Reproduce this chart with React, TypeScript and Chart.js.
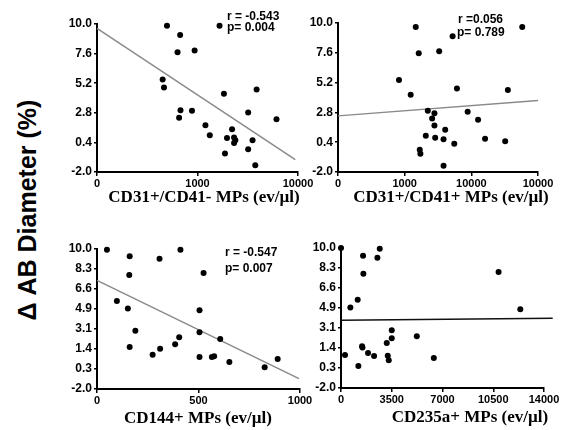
import React, { useEffect, useRef } from "react";
import { Chart, registerables } from "chart.js";
Chart.register(...registerables);

// ---------- Data ----------
// Panel 1: CD31+/CD41- MPs (log x)
const p1X = [497, 1657, 672, 633, 936, 450, 464, 1832, 3873, 677, 881, 656, 3192, 6109, 1199, 1325, 2208, 1965, 2312, 2380, 2312, 3530, 1877, 3192, 3757];
const p1Y = [9.86, 9.86, 9.11, 7.7, 7.86, 5.5, 4.85, 4.34, 4.69, 3.01, 2.96, 2.39, 2.82, 2.28, 1.79, 0.98, 1.47, 0.76, 0.79, 0.57, 0.36, 0.57, -0.51, -0.16, -1.46];
const p1TrendX = [100, 9400];
const p1TrendY = [9.65, -1.0];
const p1XTicks = [100, 1000, 10000];
const p1XLabels = ["0", "1000", "10000"];

// Panel 2: CD31+/CD41+ MPs (log x)
const p2X = [1466, 5236, 58000, 1626, 3296, 822, 1231, 6084, 35300, 2223, 2797, 2583, 8810, 12620, 2797, 4055, 2075, 2867, 3828, 5546, 16070, 32200, 1683, 1722, 3828];
const p2Y = [9.68, 8.93, 9.68, 7.57, 7.73, 5.4, 4.23, 4.73, 4.6, 2.94, 2.73, 2.3, 2.86, 2.2, 1.74, 1.4, 0.91, 0.75, 0.64, 0.27, 0.67, 0.48, -0.21, -0.53, -1.49];
const p2TrendX = [100, 100000];
const p2TrendY = [2.52, 3.75];
const p2XTicks = [100, 1000, 10000, 100000];
const p2XLabels = ["0", "1000", "10000", "10000"];

// Panel 3: CD144+ MPs
const p3X = [49, 161, 308, 411, 159, 525, 98, 152, 505, 189, 505, 405, 607, 385, 161, 311, 274, 505, 566, 577, 652, 826, 890];
const p3Y = [9.94, 9.37, 9.17, 9.94, 7.77, 7.94, 5.54, 4.89, 4.74, 3.0, 2.86, 2.43, 2.29, 1.83, 1.6, 1.46, 0.94, 0.74, 0.74, 0.8, 0.31, -0.14, 0.57];
const p3TrendX = [0, 995];
const p3TrendY = [7.31, -1.11];
const p3XTicks = [0, 500, 1000];
const p3XLabels = ["0", "500", "1000"];

// Panel 4: CD235a+ MPs
const p4X = [0, 2671, 1520, 2510, 1543, 10868, 1151, 645, 12365, 3500, 3500, 5227, 3155, 1451, 1480, 1865, 2280, 3224, 3293, 276, 1197, 6401];
const p4Y = [10.0, 9.94, 9.34, 9.17, 7.8, 7.94, 5.57, 4.91, 4.74, 2.94, 2.26, 2.43, 1.86, 1.57, 1.48, 1.0, 0.74, 0.77, 0.37, 0.83, -0.11, 0.57];
const p4TrendX = [0, 14600];
const p4TrendY = [3.8, 3.97];
const p4XTicks = [0, 3500, 7000, 10500, 14000];
const p4XLabels = ["0", "3500", "7000", "10500", "14000"];

// Y ticks
const yTicksTop = [-2, 0.4, 2.8, 5.2, 7.6, 10];
const yLabelsTop = ["-2.0", "0.4", "2.8", "5.2", "7.6", "10.0"];
const yTicksBottom = [-2, -0.286, 1.429, 3.143, 4.857, 6.571, 8.286, 10];
const yLabelsBottom = ["-2.0", "0.3", "1.4", "3.1", "4.9", "6.6", "8.3", "10.0"];

const titles = ["CD31+/CD41- MPs (ev/\u00b5l)", "CD31+/CD41+ MPs (ev/\u00b5l)", "CD144+ MPs (ev/\u00b5l)", "CD235a+ MPs (ev/\u00b5l)"];
const yTitle = "\u0394 AB Diameter (%)";

// ---------- Layout ----------
type Note = { text: string; x: number; y: number };
type PanelCfg = {
  area: { L: number; R: number; T: number; B: number };
  xType: "linear" | "logarithmic";
  xMin: number; xMax: number;
  xTicks: number[]; xLabels: string[];
  yTicks: number[]; yLabels: string[];
  xs: number[]; ys: number[];
  tx: number[]; ty: number[];
  trendColor: string;
  title: string; titleX: number; titleY: number;
  notes: Note[];
};

const panels: PanelCfg[] = [
  {
    area: { L: 97, R: 298, T: 24, B: 172 }, xType: "logarithmic", xMin: 100, xMax: 10000,
    xTicks: p1XTicks, xLabels: p1XLabels, yTicks: yTicksTop, yLabels: yLabelsTop,
    xs: p1X, ys: p1Y, tx: p1TrendX, ty: p1TrendY, trendColor: "#8a8a8a",
    title: titles[0], titleX: 204, titleY: 198,
    notes: [{ text: "r = -0.543", x: 227, y: 17 }, { text: "p= 0.004", x: 227, y: 28 }],
  },
  {
    area: { L: 338, R: 538, T: 23, B: 172 }, xType: "logarithmic", xMin: 100, xMax: 100000,
    xTicks: p2XTicks, xLabels: p2XLabels, yTicks: yTicksTop, yLabels: yLabelsTop,
    xs: p2X, ys: p2Y, tx: p2TrendX, ty: p2TrendY, trendColor: "#8a8a8a",
    title: titles[1], titleX: 451, titleY: 198,
    notes: [{ text: "r =0.056", x: 458, y: 20 }, { text: "p= 0.789", x: 457, y: 33 }],
  },
  {
    area: { L: 97, R: 300, T: 249, B: 389 }, xType: "linear", xMin: 0, xMax: 1000,
    xTicks: p3XTicks, xLabels: p3XLabels, yTicks: yTicksBottom, yLabels: yLabelsBottom,
    xs: p3X, ys: p3Y, tx: p3TrendX, ty: p3TrendY, trendColor: "#8a8a8a",
    title: titles[2], titleX: 198, titleY: 419,
    notes: [{ text: "r = -0.547", x: 225, y: 253 }, { text: "p= 0.007", x: 225, y: 269 }],
  },
  {
    area: { L: 341, R: 544, T: 248, B: 388 }, xType: "linear", xMin: 0, xMax: 14000,
    xTicks: p4XTicks, xLabels: p4XLabels, yTicks: yTicksBottom, yLabels: yLabelsBottom,
    xs: p4X, ys: p4Y, tx: p4TrendX, ty: p4TrendY, trendColor: "#111111",
    title: titles[3], titleX: 470, titleY: 418,
    notes: [],
  },
];

const PAD_LEFT = 50;
const PAD_TOP = 22;
const PAD_RIGHT = 24;
const PAD_BOTTOM = 44;
const SANS = "'Liberation Sans', Arial, Helvetica, sans-serif";
const SERIF = "'Liberation Serif', 'Times New Roman', serif";

function Panel({ cfg }: { cfg: PanelCfg }) {
  const ref = useRef<HTMLCanvasElement>(null);
  const { L, R, T, B } = cfg.area;
  const left = L - PAD_LEFT;
  const top = T - PAD_TOP;
  const width = R - L + PAD_LEFT + PAD_RIGHT;
  const height = B - T + PAD_TOP + PAD_BOTTOM;

  useEffect(() => {
    if (!ref.current) return;
    const textPlugin = {
      id: "panelText",
      afterDraw(chart: any) {
        const ctx = chart.ctx as CanvasRenderingContext2D;
        ctx.save();
        ctx.fillStyle = "#000";
        ctx.textBaseline = "middle";
        ctx.font = `bold 12px ${SANS}`;
        ctx.textAlign = "left";
        for (const n of cfg.notes) ctx.fillText(n.text, n.x - left, n.y - top);
        ctx.font = `bold 17px ${SERIF}`;
        ctx.textAlign = "center";
        ctx.fillText(cfg.title, cfg.titleX - left, cfg.titleY - top);
        ctx.restore();
      },
    };
    const chart = new Chart(ref.current, {
      type: "scatter",
      data: {
        datasets: [
          {
            data: cfg.xs.map((x, i) => ({ x, y: cfg.ys[i] })),
            pointRadius: 3,
            pointBackgroundColor: "#000",
            pointBorderColor: "#000",
            pointBorderWidth: 0,
            showLine: false,
            clip: false as any,
          },
          {
            data: cfg.tx.map((x, i) => ({ x, y: cfg.ty[i] })),
            showLine: true,
            pointRadius: 0,
            borderColor: cfg.trendColor,
            borderWidth: 1.5,
            clip: false as any,
          },
        ],
      },
      options: {
        animation: false,
        responsive: false,
        events: [],
        layout: { padding: { left: 0, top: PAD_TOP, right: PAD_RIGHT, bottom: 0 } },
        plugins: { legend: { display: false }, tooltip: { enabled: false }, title: { display: false } },
        scales: {
          x: {
            type: cfg.xType,
            min: cfg.xMin,
            max: cfg.xMax,
            position: "bottom",
            afterBuildTicks: (s: any) => { s.ticks = cfg.xTicks.map((v) => ({ value: v })); },
            afterFit: (s: any) => { s.height = PAD_BOTTOM; },
            ticks: {
              autoSkip: false,
              maxRotation: 0,
              padding: 1,
              color: "#000",
              font: { family: SANS, size: 11, weight: "bold" },
              callback: (_v: any, i: number) => cfg.xLabels[i],
            },
            grid: { display: true, drawOnChartArea: false, drawTicks: true, tickLength: 4, color: "#000", lineWidth: 1.5 },
            border: { display: true, color: "#000", width: 2 },
          },
          y: {
            type: "linear",
            min: -2,
            max: 10,
            afterBuildTicks: (s: any) => { s.ticks = cfg.yTicks.map((v) => ({ value: v })); },
            afterFit: (s: any) => { s.width = PAD_LEFT; },
            ticks: {
              autoSkip: false,
              padding: 2,
              color: "#000",
              font: { family: SANS, size: 12, weight: "bold" },
              callback: (_v: any, i: number) => cfg.yLabels[i],
            },
            grid: { display: true, drawOnChartArea: false, drawTicks: true, tickLength: 3, color: "#000", lineWidth: 1.5 },
            border: { display: true, color: "#000", width: 2 },
          },
        },
      } as any,
      plugins: [textPlugin],
    });
    return () => chart.destroy();
  }, []);

  return (
    <canvas
      ref={ref}
      width={width}
      height={height}
      style={{ position: "absolute", left, top, width, height }}
    />
  );
}

export default function App() {
  return (
    <div style={{ position: "fixed", left: 0, top: 0, width: 567, height: 430, background: "#fff", overflow: "hidden" }}>
      {panels.map((p, i) => (
        <Panel key={i} cfg={p} />
      ))}
      <div
        style={{
          position: "absolute",
          left: 27,
          top: 210,
          transform: "translate(-50%, -50%) rotate(-90deg)",
          whiteSpace: "nowrap",
          font: `bold 25px ${SANS}`,
          color: "#000",
        }}
      >
        {yTitle}
      </div>
    </div>
  );
}
